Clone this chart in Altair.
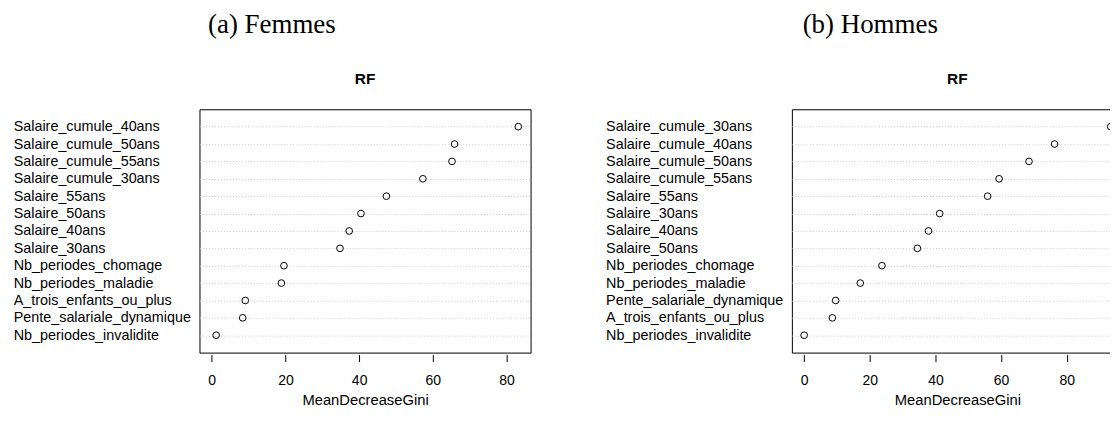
import altair as alt
import pandas as pd

# Femmes (top to bottom)
labels_f = ["Salaire_cumule_40ans", "Salaire_cumule_50ans", "Salaire_cumule_55ans",
            "Salaire_cumule_30ans", "Salaire_55ans", "Salaire_50ans", "Salaire_40ans",
            "Salaire_30ans", "Nb_periodes_chomage", "Nb_periodes_maladie",
            "A_trois_enfants_ou_plus", "Pente_salariale_dynamique", "Nb_periodes_invalidite"]
values_f = [83.2, 65.9, 65.2, 57.3, 47.4, 40.5, 37.3, 34.8, 19.6, 18.9, 9.1, 8.4, 1.2]

# Hommes (top to bottom)
labels_h = ["Salaire_cumule_30ans", "Salaire_cumule_40ans", "Salaire_cumule_50ans",
            "Salaire_cumule_55ans", "Salaire_55ans", "Salaire_30ans", "Salaire_40ans",
            "Salaire_50ans", "Nb_periodes_chomage", "Nb_periodes_maladie",
            "Pente_salariale_dynamique", "A_trois_enfants_ou_plus", "Nb_periodes_invalidite"]
values_h = [93.4, 76.3, 68.5, 59.4, 55.9, 41.3, 37.9, 34.5, 23.7, 17.1, 9.6, 8.6, 0.0]

tick_values = [0, 20, 40, 60, 80]

SANS = "Liberation Sans"
SERIF = "Liberation Serif"


def panel(labels, values, caption, dx):
    df = pd.DataFrame({"var": labels, "gini": values})
    m = max(values)
    dom = [-0.04 * m, 1.04 * m]
    pts = alt.Chart(df).mark_point(
        shape="circle", filled=False, color="black", size=45, strokeWidth=1, opacity=1
    ).encode(
        x=alt.X("gini:Q",
                scale=alt.Scale(domain=dom, nice=False, zero=False),
                axis=alt.Axis(values=tick_values, title="MeanDecreaseGini", grid=False,
                              domain=False, tickSize=7, tickColor="black", offset=2,
                              labelFontSize=14, labelColor="black", labelPadding=12,
                              titleFontSize=14.8, titleFontWeight="normal", titleColor="black",
                              titlePadding=5, labelFont=SANS, titleFont=SANS)),
        y=alt.Y("var:N", sort=labels,
                scale=alt.Scale(type="point", padding=1),
                axis=alt.Axis(title=None, ticks=False, domain=False, grid=True,
                              gridColor="#c8c8c8", gridDash=[1, 2], gridWidth=1,
                              labelAlign="left", labelPadding=186.8, labelFontSize=14.4,
                              labelColor="black", labelLimit=400, labelFont=SANS)),
    ).properties(
        width=332, height=244,
        title=alt.TitleParams("RF", font=SANS, fontSize=15.5, fontWeight="bold",
                              anchor="middle", frame="group", offset=22, color="black"),
    )
    return alt.vconcat(pts).properties(
        title=alt.TitleParams(caption, font=SERIF, fontSize=27, fontWeight="normal",
                              anchor="middle", frame="bounds", offset=32, dx=dx,
                              color="black"))


left = panel(labels_f, values_f, "(a) Femmes", 0)
right = panel(labels_h, values_h, "(b) Hommes", 6)

chart = alt.hconcat(left, right, spacing=73).properties(
    padding={"left": 4, "top": 3, "right": -14, "bottom": 0}
).configure_view(stroke="black", strokeWidth=1)

chart.save("out.html", embed_options={"renderer": "svg", "actions": False})
